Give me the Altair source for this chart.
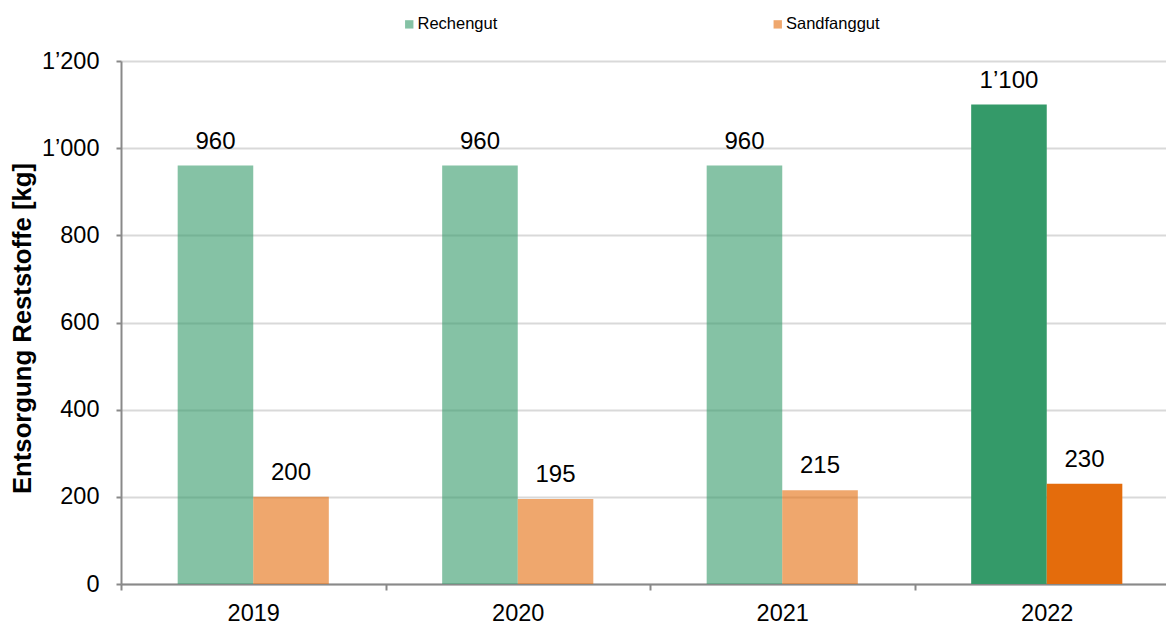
import altair as alt
import pandas as pd

years = ["2019", "2020", "2021", "2022"]
series = ["Rechengut", "Sandfanggut"]
rechengut = [960, 960, 960, 1100]
sandfanggut = [200, 195, 215, 230]
y_ticks = [0, 200, 400, 600, 800, 1000, 1200]
colors = ["#349A69", "#E46C0C"]

rows = []
for i, yr in enumerate(years):
    rows.append({"year": yr, "series": series[0], "value": rechengut[i]})
    rows.append({"year": yr, "series": series[1], "value": sandfanggut[i]})
df = pd.DataFrame(rows)

FONT = "Liberation Sans"
AXC = "#898989"

base = alt.Chart(df).transform_calculate(
    label="replace(format(datum.value, ','), ',', '’')"
).encode(
    x=alt.X(
        "year:N",
        sort=years,
        scale=alt.Scale(paddingInner=0, paddingOuter=0),
        axis=alt.Axis(
            title=None, labelAngle=0, labelFontSize=23.5, labelFont=FONT,
            labelColor="#000000", tickBand="extent", tickSize=6, tickWidth=2,
            tickColor=AXC, domainColor=AXC, domainWidth=2, labelPadding=11,
        ),
    ),
    xOffset=alt.XOffset(
        "series:N", sort=series,
        scale=alt.Scale(domain=series, paddingInner=0, paddingOuter=0.75),
    ),
    y=alt.Y(
        "value:Q",
        scale=alt.Scale(domain=[0, 1200], nice=False),
        axis=alt.Axis(
            title="Entsorgung Reststoffe [kg]", titleFontSize=25.7, titleFont=FONT,
            titleFontWeight="bold", titleColor="#000000",
            titleX=-86, titleY=267, titleAngle=270, titleBaseline="bottom",
            values=y_ticks,
            labelExpr="replace(format(datum.value, ','), ',', '’')",
            labelFontSize=23.5, labelFont=FONT, labelColor="#000000",
            labelPadding=17, tickSize=5, tickWidth=2, tickColor=AXC,
            domainColor=AXC, domainWidth=2,
            grid=True, gridColor="#D9D9D9", gridWidth=2,
        ),
    ),
)

bars = base.mark_bar().encode(
    color=alt.Color(
        "series:N",
        scale=alt.Scale(domain=series, range=colors),
        legend=alt.Legend(
            title=None, orient="none", legendX=276, legendY=-45,
            direction="horizontal", symbolType="square", symbolSize=70,
            symbolOpacity=0.6, symbolStrokeWidth=0, symbolOffset=4,
            labelFontSize=16.5, labelFont=FONT, labelColor="#000000",
            labelOffset=0, columnPadding=267.5, padding=0,
        ),
    ),
    opacity=alt.condition("datum.year == '2022'", alt.value(1.0), alt.value(0.6)),
)

labels = base.mark_text(
    baseline="alphabetic", dy=-17, fontSize=24, font=FONT, color="#000000"
).encode(text="label:N")

chart = alt.layer(bars, labels).properties(
    width=1058,
    height=523,
    autosize=alt.AutoSizeParams(type="none"),
    padding={"left": 113, "top": 53, "right": -13, "bottom": 44},
).configure_view(stroke=None)

chart.save("out.html", embed_options={"renderer": "svg", "actions": False})
